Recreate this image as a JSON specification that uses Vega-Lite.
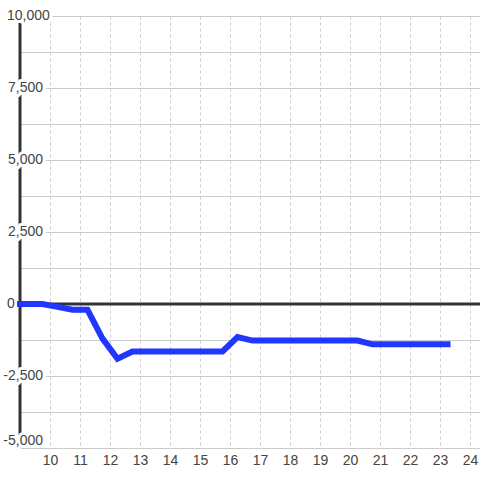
{
  "$schema": "https://vega.github.io/schema/vega-lite/v6.json",
  "width": 460,
  "height": 432,
  "autosize": {"type": "none"},
  "padding": {"left": 20, "top": 16, "right": 0, "bottom": 32},
  "background": "white",
  "config": {
    "view": {"stroke": null},
    "font": "Liberation Sans"
  },
  "datasets": {
    "series": [
      {"hour": 9, "value": 0},
      {"hour": 9.25, "value": 0},
      {"hour": 9.75, "value": 0},
      {"hour": 10.25, "value": -100},
      {"hour": 10.75, "value": -200},
      {"hour": 11.25, "value": -200},
      {"hour": 11.75, "value": -1200},
      {"hour": 12.25, "value": -1900},
      {"hour": 12.75, "value": -1650},
      {"hour": 13.25, "value": -1650},
      {"hour": 13.75, "value": -1650},
      {"hour": 14.25, "value": -1650},
      {"hour": 14.75, "value": -1650},
      {"hour": 15.25, "value": -1650},
      {"hour": 15.75, "value": -1650},
      {"hour": 16.25, "value": -1150},
      {"hour": 16.75, "value": -1270},
      {"hour": 17.25, "value": -1270},
      {"hour": 17.75, "value": -1270},
      {"hour": 18.25, "value": -1270},
      {"hour": 18.75, "value": -1270},
      {"hour": 19.25, "value": -1270},
      {"hour": 19.75, "value": -1270},
      {"hour": 20.25, "value": -1270},
      {"hour": 20.75, "value": -1400},
      {"hour": 21.25, "value": -1400},
      {"hour": 21.75, "value": -1400},
      {"hour": 22.25, "value": -1400},
      {"hour": 22.75, "value": -1400},
      {"hour": 23.25, "value": -1400}
    ],
    "ylabels": [
      {"v": 10000, "label": "10,000"},
      {"v": 7500, "label": "7,500"},
      {"v": 5000, "label": "5,000"},
      {"v": 2500, "label": "2,500"},
      {"v": 0, "label": "0"},
      {"v": -2500, "label": "-2,500"},
      {"v": -5000, "label": "-5,000"}
    ],
    "one": [{"k": 1}]
  },
  "layer": [
    {
      "data": {"name": "one"},
      "mark": {"type": "rule", "color": "#333333", "strokeWidth": 3},
      "encoding": {
        "y": {"datum": 0, "type": "quantitative", "title": null,
          "scale": {"domain": [-5000, 10000], "nice": false, "zero": false},
          "axis": {"values": [-5000, -3750, -2500, -1250, 0, 1250, 2500, 3750, 5000, 6250, 7500, 8750, 10000], "grid": true, "gridColor": "#cccccc", "gridWidth": 1, "labels": false, "ticks": false, "domain": false}}
      }
    },
    {
      "data": {"name": "one"},
      "mark": {"type": "rule", "color": "#333333", "strokeWidth": 3},
      "encoding": {
        "x": {"datum": 9, "type": "quantitative", "title": null,
          "scale": {"domain": [9, 24.333], "nice": false, "zero": false},
          "axis": {"values": [10, 11, 12, 13, 14, 15, 16, 17, 18, 19, 20, 21, 22, 23, 24], "grid": true, "gridDash": [3, 3], "gridColor": "#cccccc", "gridWidth": 1, "domain": false, "ticks": false, "labelFontSize": 14, "labelColor": "#444444", "labelPadding": 5, "labelFlush": false, "labelOverlap": false}}
      }
    },
    {
      "data": {"name": "ylabels"},
      "transform": [{"filter": "datum.v != 0 && datum.v != 10000 && datum.v != -5000"}],
      "encoding": {
        "x": {"datum": 9, "type": "quantitative", "title": null,
          "scale": {"domain": [9, 24.333], "nice": false, "zero": false},
          "axis": {"values": [10, 11, 12, 13, 14, 15, 16, 17, 18, 19, 20, 21, 22, 23, 24], "grid": true, "gridDash": [3, 3], "gridColor": "#cccccc", "gridWidth": 1, "domain": false, "ticks": false, "labelFontSize": 14, "labelColor": "#444444", "labelPadding": 5, "labelFlush": false, "labelOverlap": false}},
        "y": {"field": "v", "type": "quantitative", "title": null,
          "scale": {"domain": [-5000, 10000], "nice": false, "zero": false},
          "axis": {"values": [-5000, -3750, -2500, -1250, 0, 1250, 2500, 3750, 5000, 6250, 7500, 8750, 10000], "grid": true, "gridColor": "#cccccc", "gridWidth": 1, "labels": false, "ticks": false, "domain": false}},
        "text": {"field": "label"}
      },
      "layer": [
        {"mark": {"type": "text", "align": "right", "baseline": "middle", "dx": 23, "fontSize": 14, "color": "white", "fill": "white", "stroke": "white", "strokeWidth": 6, "strokeJoin": "round"}},
        {"mark": {"type": "text", "align": "right", "baseline": "middle", "dx": 23, "fontSize": 14, "fill": "#444444"}}
      ]
    },
    {
      "data": {"name": "ylabels"},
      "transform": [{"filter": "datum.v == -5000"}],
      "encoding": {
        "x": {"datum": 9, "type": "quantitative", "title": null,
          "scale": {"domain": [9, 24.333], "nice": false, "zero": false},
          "axis": {"values": [10, 11, 12, 13, 14, 15, 16, 17, 18, 19, 20, 21, 22, 23, 24], "grid": true, "gridDash": [3, 3], "gridColor": "#cccccc", "gridWidth": 1, "domain": false, "ticks": false, "labelFontSize": 14, "labelColor": "#444444", "labelPadding": 5, "labelFlush": false, "labelOverlap": false}},
        "y": {"field": "v", "type": "quantitative", "title": null,
          "scale": {"domain": [-5000, 10000], "nice": false, "zero": false},
          "axis": {"values": [-5000, -3750, -2500, -1250, 0, 1250, 2500, 3750, 5000, 6250, 7500, 8750, 10000], "grid": true, "gridColor": "#cccccc", "gridWidth": 1, "labels": false, "ticks": false, "domain": false}},
        "text": {"field": "label"}
      },
      "layer": [
        {"mark": {"type": "text", "align": "right", "baseline": "middle", "dx": 23, "dy": -7, "fontSize": 14, "color": "white", "fill": "white", "stroke": "white", "strokeWidth": 6, "strokeJoin": "round"}},
        {"mark": {"type": "text", "align": "right", "baseline": "middle", "dx": 23, "dy": -7, "fontSize": 14, "fill": "#444444"}}
      ]
    },
    {
      "data": {"name": "ylabels"},
      "transform": [{"filter": "datum.v == 0 || datum.v == 10000"}],
      "encoding": {
        "x": {"datum": 9, "type": "quantitative", "title": null,
          "scale": {"domain": [9, 24.333], "nice": false, "zero": false},
          "axis": {"values": [10, 11, 12, 13, 14, 15, 16, 17, 18, 19, 20, 21, 22, 23, 24], "grid": true, "gridDash": [3, 3], "gridColor": "#cccccc", "gridWidth": 1, "domain": false, "ticks": false, "labelFontSize": 14, "labelColor": "#444444", "labelPadding": 5, "labelFlush": false, "labelOverlap": false}},
        "y": {"field": "v", "type": "quantitative", "title": null,
          "scale": {"domain": [-5000, 10000], "nice": false, "zero": false},
          "axis": {"values": [-5000, -3750, -2500, -1250, 0, 1250, 2500, 3750, 5000, 6250, 7500, 8750, 10000], "grid": true, "gridColor": "#cccccc", "gridWidth": 1, "labels": false, "ticks": false, "domain": false}},
        "text": {"field": "label"}
      },
      "layer": [
        {"mark": {"type": "text", "align": "left", "baseline": "middle", "dx": -13, "fontSize": 14, "color": "white", "fill": "white", "stroke": "white", "strokeWidth": 6, "strokeJoin": "round"}},
        {"mark": {"type": "text", "align": "left", "baseline": "middle", "dx": -13, "fontSize": 14, "fill": "#444444"}}
      ]
    },
    {
      "data": {"name": "series"},
      "mark": {"type": "line", "color": "#2136ff", "strokeWidth": 6, "strokeCap": "square", "strokeJoin": "miter"},
      "encoding": {
        "x": {"field": "hour", "type": "quantitative", "title": null,
          "scale": {"domain": [9, 24.333], "nice": false, "zero": false},
          "axis": {"values": [10, 11, 12, 13, 14, 15, 16, 17, 18, 19, 20, 21, 22, 23, 24], "grid": true, "gridDash": [3, 3], "gridColor": "#cccccc", "gridWidth": 1, "domain": false, "ticks": false, "labelFontSize": 14, "labelColor": "#444444", "labelPadding": 5, "labelFlush": false, "labelOverlap": false}},
        "y": {"field": "value", "type": "quantitative", "title": null,
          "scale": {"domain": [-5000, 10000], "nice": false, "zero": false},
          "axis": {"values": [-5000, -3750, -2500, -1250, 0, 1250, 2500, 3750, 5000, 6250, 7500, 8750, 10000], "grid": true, "gridColor": "#cccccc", "gridWidth": 1, "labels": false, "ticks": false, "domain": false}}
      }
    }
  ]
}
